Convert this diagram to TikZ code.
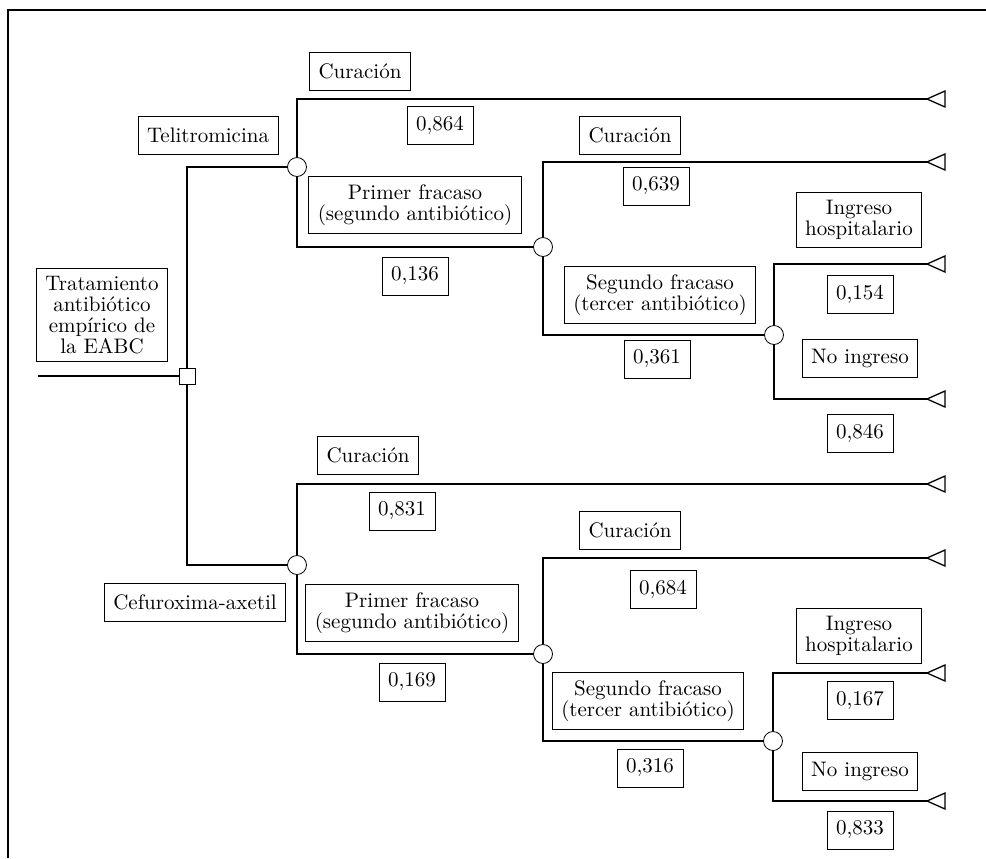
\documentclass[tikz,border=0pt]{standalone}
\usepackage{fontspec}
\tikzset{
  lbl/.style={draw, fill=white, align=center, font=\fontsize{10.5}{10.5}\selectfont,
    inner xsep=4.5pt, inner ysep=4pt, minimum height=19pt},
  chance/.style={circle, draw, fill=white, inner sep=0pt, minimum size=9.5pt},
  decision/.style={rectangle, draw, fill=white, inner sep=0pt, minimum size=8pt},
  branch/.style={line width=0.65pt},
  stub/.style={line width=1.2pt},
}
\begin{document}
\begin{tikzpicture}[x=0.5pt, y=-0.5pt]
	\useasboundingbox (0,0) rectangle (986,858);
	\draw[branch] (8,858) -- (8,10) -- (986,10);
	% decision
	\coordinate (in) at (38,376);
	\node[decision] (dec) at (187,376) {};
	\node[lbl] (root) at (102,315) {Tratamiento\\antibiótico\\empírico de\\la EABC};
	% chance nodes
	\node[chance] (c1) at (297,167) {};
	\node[chance] (c2) at (543,247) {};
	\node[chance] (c3) at (774,335) {};
	\node[chance] (c4) at (297,565) {};
	\node[chance] (c5) at (543,654) {};
	\node[chance] (c6) at (773,741) {};
	% terminals
	\coordinate (t1) at (927,99);
	\coordinate (t2) at (927,162);
	\coordinate (t3) at (927,264);
	\coordinate (t4) at (927,399);
	\coordinate (t5) at (927,484);
	\coordinate (t6) at (927,558);
	\coordinate (t7) at (927,673);
	\coordinate (t8) at (927,801);
	% branches
	\draw[branch] (in) -- (dec);
	\draw[branch] (dec) |- (c1);
	\draw[branch] (dec) |- (c4);
	\draw[branch] (c1) |- (t1);
	\draw[branch] (c1) |- (c2);
	\draw[branch] (c2) |- (t2);
	\draw[branch] (c2) |- (c3);
	\draw[branch] (c3) |- (t3);
	\draw[branch] (c3) |- (t4);
	\draw[branch] (c4) |- (t5);
	\draw[branch] (c4) |- (c5);
	\draw[branch] (c5) |- (t6);
	\draw[branch] (c5) |- (c6);
	\draw[branch] (c6) |- (t7);
	\draw[branch] (c6) |- (t8);
	\foreach \t in {t1,t2,t3,t4,t5,t6,t7,t8}
		\draw[branch, fill=white] (\t) -- ++(18,-8) -- ++(0,16) -- cycle;
	\draw[stub] (dec.north) -- ++(0,-34);
	\draw[stub] (c1.north) -- ++(0,-16);
	\draw[stub] (c2.north) -- ++(0,-10);
	\draw[stub] (c4.north) -- ++(0,-63);
	\draw[stub] (c5.north) -- ++(0,-38);
	\draw[stub] (c6.north) -- ++(0,-14);
	% labels, upper tree
	\node[lbl] (tel) at (208,135) {Telitromicina};
	\node[lbl] (cur1) at (360,71) {Curación};
	\node[lbl] (p864) at (440,125) {0,864};
	\node[lbl] (pf1) at (415,205) {Primer fracaso\\(segundo antibiótico)};
	\node[lbl] (p136) at (415,276) {0,136};
	\node[lbl] (cur2) at (630,135) {Curación};
	\node[lbl] (p639) at (656,186) {0,639};
	\node[lbl] (sf1) at (660,295) {Segundo fracaso\\(tercer antibiótico)};
	\node[lbl] (p361) at (657,359) {0,361};
	\node[lbl] (ing1) at (859,220) {Ingreso\\hospitalario};
	\node[lbl] (p154) at (860,294) {0,154};
	\node[lbl] (no1) at (860,358) {No ingreso};
	\node[lbl] (p846) at (860,433) {0,846};
	% labels, lower tree
	\node[lbl] (cef) at (195,602) {Cefuroxima-axetil};
	\node[lbl] (cur3) at (368,455) {Curación};
	\node[lbl] (p831) at (402,511) {0,831};
	\node[lbl] (pf2) at (412,613) {Primer fracaso\\(segundo antibiótico)};
	\node[lbl] (p169) at (412,682) {0,169};
	\node[lbl] (cur4) at (630,530) {Curación};
	\node[lbl] (p684) at (663,589) {0,684};
	\node[lbl] (sf2) at (648,701) {Segundo fracaso\\(tercer antibiótico)};
	\node[lbl] (p316) at (650,768) {0,316};
	\node[lbl] (ing2) at (859,636) {Ingreso\\hospitalario};
	\node[lbl] (p167) at (860,700) {0,167};
	\node[lbl] (no2) at (860,771) {No ingreso};
	\node[lbl] (p833) at (860,830) {0,833};
\end{tikzpicture}
\end{document}
